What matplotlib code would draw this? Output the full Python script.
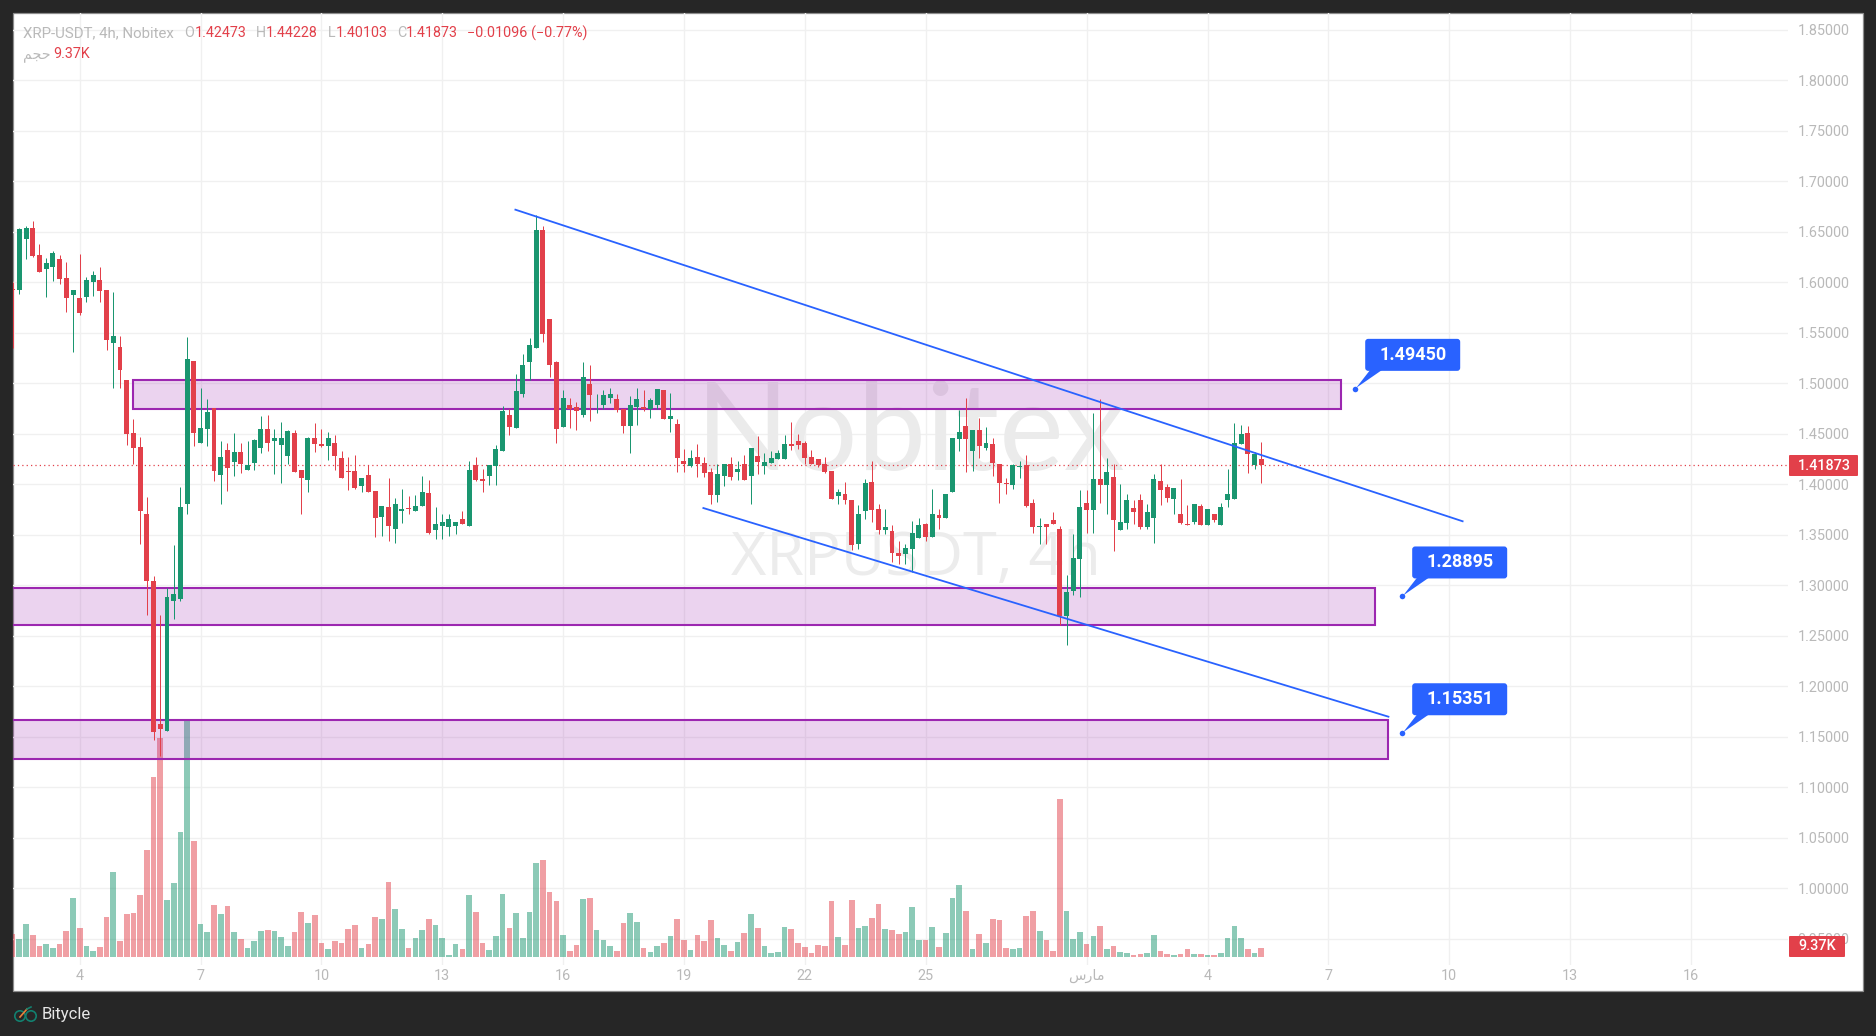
import matplotlib
matplotlib.use("Agg")
import matplotlib.pyplot as plt
from matplotlib.patches import Rectangle, FancyBboxPatch, Polygon, Circle
import numpy as np

# XRP-USDT 4h candles, one row per ten bars
opens = [
    1.5932, 1.5925, 1.6429, 1.6542, 1.6267, 1.6129, 1.6147, 1.6228, 1.6041, 1.5872,
    1.5844, 1.5851, 1.5999, 1.6020, 1.5921, 1.5399, 1.5357, 1.5032, 1.4510, 1.4369,
    1.3709, 1.3046, 1.1623, 1.1553, 1.2848, 1.2869, 1.3808, 1.5219, 1.4411, 1.4549,
    1.4757, 1.4094, 1.4340, 1.4220, 1.4319, 1.4143, 1.4213, 1.4362, 1.4549, 1.4429,
    1.4390, 1.4280, 1.4510, 1.4143, 1.4044, 1.4460, 1.4400, 1.4379, 1.4404, 1.4256,
    1.4127, 1.4127, 1.3988, 1.4097, 1.3929, 1.3672, 1.3771, 1.3553, 1.3731, 1.3761,
    1.3731, 1.3781, 1.3909, 1.3543, 1.3583, 1.3573, 1.3583, 1.3652, 1.3592, 1.4196,
    1.4048, 1.4078, 1.4177, 1.4325, 1.4691, 1.4553, 1.4899, 1.5206, 1.5345, 1.6513,
    1.5632, 1.5206, 1.4563, 1.4790, 1.4761, 1.4691, 1.4998, 1.4781, 1.4790, 1.4850,
    1.4840, 1.4741, 1.4573, 1.4761, 1.4761, 1.4741, 1.4781, 1.4934, 1.4647, 1.4597,
    1.4231, 1.4182, 1.4271, 1.4211, 1.4122, 1.3894, 1.4083, 1.4201, 1.4122, 1.4201,
    1.4083, 1.4281, 1.4182, 1.4211, 1.4251, 1.4251, 1.4399, 1.4429, 1.4409, 1.4271,
    1.4251, 1.4201, 1.4132, 1.3885, 1.3904, 1.3845, 1.3409, 1.3736, 1.4023, 1.3756,
    1.3548, 1.3538, 1.3320, 1.3310, 1.3360, 1.3469, 1.3607, 1.3479, 1.3696, 1.3667,
    1.3924, 1.4449, 1.4578, 1.4330, 1.4538, 1.4360, 1.4399, 1.4201, 1.4013, 1.3994,
    1.4172, 1.4192, 1.3815, 1.3578, 1.3607, 1.3647, 1.3558, 1.2697, 1.2944, 1.3261,
    1.3815, 1.3746, 1.4053, 1.3994, 1.4073, 1.3548, 1.3617, 1.3766, 1.3845, 1.3578,
    1.3667, 1.4033, 1.3974, 1.3855, 1.3706, 1.3607, 1.3627, 1.3785, 1.3597, 1.3706,
    1.3597, 1.3845, 1.3855, 1.4399, 1.4508, 1.4192, 1.42473,
]
highs = [
    1.5999, 1.6542, 1.6556, 1.6602, 1.6376, 1.6239, 1.6306, 1.6267, 1.6197, 1.5921,
    1.6278, 1.6048, 1.6108, 1.6147, 1.5921, 1.5900, 1.5466, 1.5032, 1.4647, 1.4467,
    1.3875, 1.3095, 1.2710, 1.2975, 1.3402, 1.3974, 1.5456, 1.5219, 1.4954, 1.4845,
    1.4757, 1.4429, 1.4411, 1.4510, 1.4411, 1.4429, 1.4450, 1.4676, 1.4686, 1.4549,
    1.4616, 1.4538, 1.4538, 1.4143, 1.4467, 1.4609, 1.4549, 1.4517, 1.4484, 1.4325,
    1.4266, 1.4286, 1.4058, 1.4196, 1.3929, 1.3790, 1.4058, 1.3860, 1.3949, 1.3889,
    1.3899, 1.4078, 1.4038, 1.3771, 1.3701, 1.3701, 1.3622, 1.3731, 1.4226, 1.4266,
    1.4147, 1.4187, 1.4385, 1.4771, 1.4741, 1.5097, 1.5286, 1.5444, 1.6662, 1.6553,
    1.5632, 1.5216, 1.4929, 1.4850, 1.4810, 1.5206, 1.5177, 1.4899, 1.4929, 1.4949,
    1.4899, 1.4741, 1.4870, 1.4949, 1.4929, 1.4850, 1.4939, 1.4934, 1.4904, 1.4647,
    1.4350, 1.4340, 1.4399, 1.4271, 1.4162, 1.4201, 1.4201, 1.4271, 1.4231, 1.4290,
    1.4360, 1.4479, 1.4310, 1.4330, 1.4340, 1.4488, 1.4617, 1.4498, 1.4429, 1.4340,
    1.4251, 1.4271, 1.4132, 1.3954, 1.4023, 1.3845, 1.3796, 1.4053, 1.4231, 1.3805,
    1.3756, 1.3597, 1.3439, 1.3409, 1.3637, 1.3667, 1.3617, 1.3954, 1.3756, 1.3904,
    1.4459, 1.4736, 1.4855, 1.4538, 1.4657, 1.4568, 1.4459, 1.4201, 1.4063, 1.4201,
    1.4231, 1.4290, 1.3855, 1.3667, 1.3607, 1.3726, 1.3588, 1.3103, 1.3508, 1.3944,
    1.3944, 1.4706, 1.4845, 1.4261, 1.4201, 1.4003, 1.3904, 1.3845, 1.3904, 1.3805,
    1.4102, 1.4201, 1.4003, 1.3964, 1.4053, 1.3796, 1.3805, 1.3805, 1.3756, 1.3706,
    1.3815, 1.4152, 1.4607, 1.4588, 1.4578, 1.4320, 1.44228,
]
lows = [
    1.5353, 1.5882, 1.6228, 1.6246, 1.6098, 1.5851, 1.6009, 1.5981, 1.5703, 1.5307,
    1.5674, 1.5801, 1.5861, 1.5801, 1.5328, 1.4954, 1.4954, 1.4390, 1.4203, 1.3412,
    1.2710, 1.1465, 1.1306, 1.1553, 1.2671, 1.2848, 1.3709, 1.4379, 1.4411, 1.4379,
    1.4033, 1.3808, 1.3935, 1.4083, 1.4115, 1.4143, 1.4143, 1.4312, 1.4330, 1.4104,
    1.4016, 1.4203, 1.4122, 1.3709, 1.3924, 1.4319, 1.4369, 1.4242, 1.4137, 1.4058,
    1.3939, 1.3949, 1.3919, 1.3919, 1.3474, 1.3493, 1.3434, 1.3414, 1.3612, 1.3701,
    1.3731, 1.3781, 1.3503, 1.3454, 1.3454, 1.3484, 1.3503, 1.3602, 1.3592, 1.4028,
    1.3919, 1.3998, 1.3998, 1.4325, 1.4493, 1.4553, 1.4860, 1.5028, 1.5345, 1.5404,
    1.5058, 1.4404, 1.4563, 1.4553, 1.4533, 1.4662, 1.4622, 1.4701, 1.4741, 1.4800,
    1.4711, 1.4503, 1.4305, 1.4592, 1.4721, 1.4652, 1.4741, 1.4647, 1.4518, 1.4122,
    1.4122, 1.4172, 1.4073, 1.4073, 1.3805, 1.3825, 1.3983, 1.4043, 1.4043, 1.4043,
    1.3805, 1.4102, 1.4102, 1.4211, 1.4251, 1.4251, 1.4340, 1.4350, 1.4201, 1.4201,
    1.4172, 1.4112, 1.3855, 1.3805, 1.3805, 1.3350, 1.3360, 1.3657, 1.3627, 1.3508,
    1.3508, 1.3231, 1.3211, 1.3211, 1.3132, 1.3469, 1.3439, 1.3479, 1.3558, 1.3667,
    1.3924, 1.4330, 1.4122, 1.4132, 1.4261, 1.4340, 1.4083, 1.3815, 1.3904, 1.3954,
    1.4063, 1.3776, 1.3518, 1.3409, 1.3409, 1.3607, 1.2608, 1.2410, 1.2905, 1.2885,
    1.3518, 1.3518, 1.3815, 1.3706, 1.3340, 1.3548, 1.3558, 1.3607, 1.3558, 1.3558,
    1.3419, 1.3795, 1.3825, 1.3706, 1.3607, 1.3597, 1.3607, 1.3597, 1.3597, 1.3627,
    1.3597, 1.3776, 1.3855, 1.4399, 1.4112, 1.4152, 1.40103,
]
closes = [
    1.5921, 1.6525, 1.6542, 1.6257, 1.6098, 1.6189, 1.6288, 1.6031, 1.5844, 1.5921,
    1.5696, 1.6020, 1.6070, 1.5911, 1.5427, 1.5466, 1.5131, 1.4499, 1.4362, 1.3737,
    1.3046, 1.1546, 1.1574, 1.2887, 1.2918, 1.3776, 1.5240, 1.4510, 1.4559, 1.4714,
    1.4132, 1.4270, 1.4164, 1.4319, 1.4203, 1.4192, 1.4439, 1.4549, 1.4411, 1.4460,
    1.4460, 1.4528, 1.4122, 1.4065, 1.4460, 1.4400, 1.4379, 1.4460, 1.4276, 1.4058,
    1.4117, 1.3959, 1.4058, 1.3919, 1.3662, 1.3781, 1.3583, 1.3800, 1.3751, 1.3751,
    1.3790, 1.3919, 1.3513, 1.3602, 1.3622, 1.3652, 1.3622, 1.3602, 1.4137, 1.4038,
    1.4028, 1.4187, 1.4345, 1.4721, 1.4563, 1.4919, 1.5186, 1.5375, 1.6513, 1.5493,
    1.5177, 1.4543, 1.4850, 1.4741, 1.4721, 1.5058, 1.4889, 1.4790, 1.4880, 1.4899,
    1.4731, 1.4573, 1.4790, 1.4840, 1.4741, 1.4830, 1.4939, 1.4647, 1.4677, 1.4261,
    1.4201, 1.4261, 1.4201, 1.4112, 1.3894, 1.4102, 1.4201, 1.4073, 1.4152, 1.4043,
    1.4360, 1.4221, 1.4221, 1.4261, 1.4310, 1.4399, 1.4380, 1.4390, 1.4261, 1.4201,
    1.4192, 1.4122, 1.3855, 1.3924, 1.3845, 1.3400, 1.3706, 1.4013, 1.3746, 1.3548,
    1.3578, 1.3320, 1.3291, 1.3370, 1.3518, 1.3597, 1.3479, 1.3706, 1.3667, 1.3904,
    1.4459, 1.4518, 1.4449, 1.4538, 1.4380, 1.4409, 1.4211, 1.4013, 1.4003, 1.4192,
    1.4182, 1.3786, 1.3578, 1.3588, 1.3578, 1.3607, 1.2697, 1.2934, 1.3271, 1.3776,
    1.3746, 1.4053, 1.3994, 1.4122, 1.3647, 1.3627, 1.3845, 1.3726, 1.3578, 1.3726,
    1.4053, 1.3944, 1.3865, 1.3964, 1.3617, 1.3597, 1.3805, 1.3597, 1.3756, 1.3647,
    1.3776, 1.3904, 1.4409, 1.4498, 1.4300, 1.4300, 1.41873,
]
# volume in thousands
volumes = [
    23.9, 18.7, 34.4, 22.9, 11.5, 13.5, 9.4, 13.5, 27.1, 61.4,
    30.2, 11.5, 6.2, 10.4, 41.6, 88.5, 16.7, 44.8, 45.8, 64.5,
    111.4, 187.4, 228.0, 59.3, 77.0, 130.1, 245.7, 120.8, 34.4, 26.0,
    54.1, 44.8, 53.1, 26.0, 18.7, 9.4, 16.7, 27.1, 28.1, 27.1,
    20.8, 11.5, 26.0, 46.8, 35.4, 43.7, 14.6, 8.3, 16.7, 14.6,
    29.1, 33.3, 9.4, 13.5, 41.6, 39.6, 78.1, 50.0, 29.1, 9.4,
    19.8, 28.1, 39.6, 33.3, 19.8, 2.1, 13.5, 8.3, 64.5, 46.8,
    14.6, 7.3, 21.9, 65.6, 30.2, 45.8, 19.8, 46.8, 97.9, 101.0,
    67.7, 58.3, 22.9, 6.2, 12.5, 60.4, 61.4, 28.1, 17.7, 11.5,
    6.2, 35.4, 45.8, 36.4, 9.4, 5.2, 11.5, 14.6, 21.9, 39.6,
    17.7, 7.3, 22.9, 16.7, 38.5, 19.8, 12.5, 6.2, 15.6, 25.0,
    44.8, 30.2, 11.5, 4.2, 5.2, 31.2, 29.1, 14.6, 10.4, 4.2,
    12.5, 11.5, 58.3, 20.8, 12.5, 59.3, 30.2, 32.3, 40.6, 55.2,
    29.1, 28.1, 23.9, 26.0, 52.1, 17.7, 17.7, 31.2, 10.4, 25.0,
    61.4, 75.0, 47.9, 8.3, 23.9, 14.6, 39.6, 38.5, 9.4, 8.3,
    9.4, 42.7, 47.9, 27.1, 17.7, 6.2, 164.5, 47.9, 18.7, 26.0,
    13.5, 21.9, 32.3, 8.3, 11.5, 5.2, 4.2, 2.1, 3.1, 4.2,
    22.9, 6.2, 3.1, 2.1, 3.1, 8.3, 3.1, 3.1, 2.1, 2.1,
    4.2, 19.8, 32.3, 19.8, 8.3, 4.2, 9.37,
]

price_ticks = [0.95, 1.00, 1.05, 1.10, 1.15, 1.20, 1.25, 1.30, 1.35, 1.40, 1.45, 1.50,
               1.55, 1.60, 1.65, 1.70, 1.75, 1.80, 1.85]
date_bars = [10, 28, 46, 64, 82, 100, 118, 136, 160, 178, 196, 214, 232, 250]
# matplotlib does no Arabic shaping, so both words use presentation forms in drawn order
month_label = "\uFEB1\uFEAD\uFE8E\uFEE3"
volume_word = "\uFEE2\uFEA0\uFEA3"
date_labels = ["4", "7", "10", "13", "16", "19", "22", "25", month_label, "4", "7", "10", "13", "16"]

# zones: first bar, last bar, top price, bottom price
zone_start = [17.94, -5, -5]
zone_end = [197.9, 202.95, 204.95]
zone_top = [1.5033, 1.2976, 1.1666]
zone_bottom = [1.4747, 1.2607, 1.1280]

# channel lines
upper_x = [74.9, 216.0]
upper_y = [1.6719, 1.3634]
lower_x = [102.9, 204.95]
lower_y = [1.3765, 1.1699]

callout_bars = [200, 207, 207]
callout_prices = [1.49450, 1.28895, 1.15351]

last_price = 1.41873

DARK = "#262626"
GREEN = "#1a9670"
RED = "#e2404a"
BLUE = "#2962ff"
PURPLE = "#9c27b0"
GRID = "#f0f0f0"
MUTED = "#b9b9b9"
FONT = ["Roboto", "DejaVu Sans"]

plt.rcParams["font.family"] = FONT

W, H = 1876, 1036
fig = plt.figure(figsize=(W / 100, H / 100), dpi=100, facecolor=DARK)

# white panel behind the chart
panel = fig.add_axes([0, 0, 1, 1], zorder=-1)
panel.set_xlim(0, W)
panel.set_ylim(H, 0)
panel.axis("off")
panel.add_patch(Rectangle((13, 13), 1849.5, 978, fc="white", ec="#8c8c8c", lw=0.9))

left, right, top, bottom = 13, 1788, 13, 965
box = [left / W, 1 - bottom / H, (right - left) / W, (bottom - top) / H]
ax = fig.add_axes(box, zorder=0)
ax.patch.set_visible(False)

x = np.arange(len(closes))
o, h, l, c = map(np.array, (opens, highs, lows, closes))
colors = [RED if c[i] < o[i] else GREEN for i in x]

bar_px = 6.713
xlim = ((left - 12.6) / bar_px, (right - 12.6) / bar_px)
ylim = (1.5 - (bottom - 383.3) / 1010, 1.5 + (383.3 - top) / 1010)
ax.set_xlim(xlim)
ax.set_ylim(ylim)
for s in ax.spines.values():
    s.set_visible(False)

# watermark
fig.text(696 / W, 1 - 470 / H, "Nobitex", fontsize=88, color="#ebebeb", family="Lato", zorder=0)
fig.text(731 / W, 1 - 575 / H, "XRPUSDT, 4h", fontsize=44, color="#ececec", family="Open Sans", zorder=0)

# volume sits under the zones
vol_ax = ax.twinx()
vol_ax.set_zorder(1)
vol_ax.patch.set_visible(False)
k_per_px = 9.37 / 9
vol_ax.set_ylim(-(bottom - 957) * k_per_px, (957 - top) * k_per_px)
vol_ax.bar(x, volumes, width=0.84, color=colors, alpha=0.5, lw=0)
vol_ax.axis("off")

ov = ax.twinx()
ov.set_zorder(2)
ov.patch.set_visible(False)
ov.set_ylim(ylim)
ov.axis("off")

# twinx moves the base ticks to the left, so the scale is set up after it
ax.yaxis.tick_right()
ax.set_yticks(price_ticks)
ax.set_yticklabels([f"{t:.5f}" for t in price_ticks])
ax.set_xticks(date_bars)
ax.set_xticklabels(date_labels)
ax.tick_params(axis="y", length=0, pad=7, labelsize=10.4, colors=MUTED)
ax.tick_params(axis="x", length=0, pad=3, labelsize=10.4, colors=MUTED)
ax.grid(True, color=GRID, lw=1)
ax.set_axisbelow(True)

for a, b, t, bt in zip(zone_start, zone_end, zone_top, zone_bottom):
    ov.add_patch(Rectangle((a, bt), b - a, t - bt, fc=(156 / 255, 39 / 255, 176 / 255, 0.2),
                           ec=PURPLE, lw=1.5, zorder=2))

ov.axhline(last_price, color=RED, lw=0.9, ls=(0, (1, 2.5)), zorder=3)

ov.vlines(x, l, h, colors=colors, lw=0.72, zorder=4)
ov.bar(x, np.abs(c - o), bottom=np.minimum(o, c), width=0.74, color=colors, lw=0, zorder=5)

ov.plot(upper_x, upper_y, color=BLUE, lw=1.3, zorder=6)
ov.plot(lower_x, lower_y, color=BLUE, lw=1.3, zorder=6)
ov.scatter(callout_bars, callout_prices, s=16, color=BLUE, lw=0, zorder=7)

# everything below is placed in pixels from the top-left corner
ui = fig.add_axes([0, 0, 1, 1], zorder=3)
ui.set_xlim(0, W)
ui.set_ylim(H, 0)
ui.axis("off")
ui.patch.set_visible(False)

for bar, price in zip(callout_bars, callout_prices):
    dx = 12.6 + bar_px * bar
    dy = 383.3 + (1.5 - price) * 1010
    bx, by, bw, bh = dx + 10, dy - 50, 95, 32
    ui.add_patch(Polygon([(dx + 1, dy - 1), (dx + 15, by + bh - 1), (dx + 27, by + bh - 1)], fc=BLUE, ec="none"))
    ui.add_patch(FancyBboxPatch((bx + 3, by + 3), bw - 6, bh - 6, boxstyle="round,pad=3,rounding_size=3", fc=BLUE, ec="none"))
    ui.text(bx + bw / 2, by + bh / 2, f"{price:.5f}", color="white", fontsize=13, fontweight="bold",
            ha="center", va="center")

# price and volume tags on the scale
ui.add_patch(FancyBboxPatch((1790, 456), 67, 19, boxstyle="round,pad=1,rounding_size=1", fc=RED, ec="none"))
ui.text(1824, 465.5, f"{last_price:.5f}", color="white", fontsize=10.4, ha="center", va="center", fontweight="medium")
ui.add_patch(FancyBboxPatch((1790, 937), 54, 19, boxstyle="round,pad=1,rounding_size=1", fc=RED, ec="none"))
ui.text(1817, 946.5, f"{volumes[-1]:.2f}K", color="white", fontsize=10.4, ha="center", va="center", fontweight="medium")

# legend header
row = [
    (23, "XRP-USDT, 4h, Nobitex", MUTED, 10.8), (184.5, "O", MUTED, 10.3), (195, f"{opens[-1]:.5f}", RED, 10.3),
    (256, "H", MUTED, 10.3), (265.5, f"{highs[-1]:.5f}", RED, 10.3), (328, "L", MUTED, 10.3),
    (335.5, f"{lows[-1]:.5f}", RED, 10.3), (397, "C", MUTED, 10.3), (406, f"{closes[-1]:.5f}", RED, 10.3),
    (467, "\u22120.01096 (\u22120.77%)", RED, 10.4),
]
for px, txt, col, size in row:
    ui.text(px, 33, txt, color=col, fontsize=size, va="center")
ui.text(22.5, 54.5, volume_word, color=MUTED, fontsize=10.3, va="center", family=["DejaVu Sans"])
ui.text(53.5, 54.5, f"{volumes[-1]:.2f}K", color=RED, fontsize=10.3, va="center")

# footer logo
ui.add_patch(Circle((20, 1016), 5.2, fc="none", ec="#12806f", lw=1.2))
ui.add_patch(Circle((31, 1016), 5.2, fc="none", ec="#12806f", lw=1.2))
ui.plot([20, 27], [1017, 1009], color="#e8803a", lw=1.2)
ui.plot([27, 31], [1009, 1007], color="#12806f", lw=1.2)
ui.text(41.5, 1015, "Bitycle", color="#e6e6e6", fontsize=12, va="center")

fig.savefig("out.png", dpi=100, facecolor=DARK)
